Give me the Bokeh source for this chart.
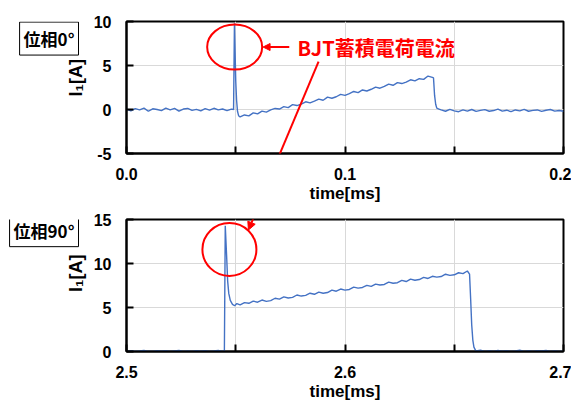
import math
from bokeh.plotting import figure
from bokeh.models import FixedTicker, PrintfTickFormatter, Label, Arrow, NormalHead
from bokeh.layouts import column, row
from bokeh.embed import file_html
from bokeh.resources import INLINE

# ---------------- data: time [ms], current I1 [A] ----------------
# phase 0 deg
top_base_t = [0.000, 0.002, 0.004, 0.006, 0.008, 0.010, 0.012, 0.014, 0.016, 0.018,
              0.020, 0.022, 0.024, 0.026, 0.028, 0.030, 0.032, 0.034, 0.036, 0.038,
              0.040, 0.042, 0.044, 0.046, 0.048]
top_base_i = [0.05, -0.15, 0.10, -0.05, 0.15, -0.20, 0.08, 0.00, -0.12, 0.15,
              -0.05, 0.12, -0.18, 0.05, 0.12, -0.10, 0.02, -0.15, 0.10, -0.08,
              0.14, -0.05, 0.06, -0.12, 0.04]
top_spike_t = [0.0490, 0.0494, 0.0497, 0.0500, 0.0504, 0.0508, 0.0513, 0.0520]
top_spike_i = [0.00, 9.80, 6.50, 3.20, 1.00, -0.20, -0.70, -0.85]
top_ramp_t = [0.054, 0.056, 0.058, 0.060, 0.062, 0.064, 0.066, 0.068, 0.070, 0.072,
              0.074, 0.076, 0.078, 0.080, 0.082, 0.084, 0.086, 0.088, 0.090, 0.092,
              0.094, 0.096, 0.098, 0.100, 0.102, 0.104, 0.106, 0.108, 0.110, 0.112,
              0.114, 0.116, 0.118, 0.120, 0.122, 0.124, 0.126, 0.128, 0.130, 0.132,
              0.134, 0.136, 0.138, 0.140]
top_ramp_i = [-0.62, -0.72, -0.38, -0.50, -0.18, -0.30, -0.05, 0.12, 0.05, 0.32,
              0.22, 0.55, 0.45, 0.62, 0.88, 0.75, 0.95, 1.18, 1.05, 1.40,
              1.28, 1.45, 1.72, 1.60, 1.80, 2.05, 1.92, 2.22, 2.10, 2.30,
              2.55, 2.42, 2.62, 2.88, 2.75, 3.05, 2.95, 3.12, 3.38, 3.25,
              3.50, 3.42, 3.80, 3.65]
top_drop_t = [0.1405, 0.1410, 0.1415, 0.1420, 0.1430]
top_drop_i = [3.60, 1.60, 0.60, 0.15, 0.05]
top_tail_t = [0.144, 0.146, 0.148, 0.150, 0.152, 0.154, 0.156, 0.158, 0.160, 0.162,
              0.164, 0.166, 0.168, 0.170, 0.172, 0.174, 0.176, 0.178, 0.180, 0.182,
              0.184, 0.186, 0.188, 0.190, 0.192, 0.194, 0.196, 0.198, 0.200]
top_tail_i = [-0.05, -0.20, 0.02, -0.15, -0.25, -0.05, -0.18, 0.00, -0.22, -0.10,
              -0.02, -0.20, -0.12, 0.05, -0.18, -0.08, -0.25, -0.05, -0.15, 0.02,
              -0.20, -0.10, -0.05, -0.22, -0.08, 0.00, -0.18, -0.12, -0.20]

# phase 90 deg
bot_base_t = [2.500, 2.502, 2.504, 2.506, 2.508, 2.510, 2.512, 2.514, 2.516, 2.518,
              2.520, 2.522, 2.524, 2.526, 2.528, 2.530, 2.532, 2.534, 2.536, 2.538,
              2.540, 2.542, 2.544]
bot_base_i = [0.02, 0.10, 0.00, 0.05, 0.12, 0.02, 0.00, 0.08, 0.03, 0.10,
              0.00, 0.06, 0.12, 0.02, 0.05, 0.00, 0.10, 0.03, 0.08, 0.00,
              0.05, 0.12, 0.02]
bot_spike_t = [2.5448, 2.5452, 2.5458, 2.5463, 2.5468, 2.5475, 2.5485, 2.5495, 2.5505]
bot_spike_i = [0.05, 14.30, 11.00, 8.00, 6.60, 5.80, 5.35, 5.20, 5.45]
bot_ramp_t = [2.552, 2.554, 2.556, 2.558, 2.560, 2.562, 2.564, 2.566, 2.568, 2.570,
              2.572, 2.574, 2.576, 2.578, 2.580, 2.582, 2.584, 2.586, 2.588, 2.590,
              2.592, 2.594, 2.596, 2.598, 2.600, 2.602, 2.604, 2.606, 2.608, 2.610,
              2.612, 2.614, 2.616, 2.618, 2.620, 2.622, 2.624, 2.626, 2.628, 2.630,
              2.632, 2.634, 2.636, 2.638, 2.640, 2.642, 2.644, 2.646, 2.648, 2.650,
              2.652, 2.654, 2.656]
bot_ramp_i = [5.30, 5.55, 5.48, 5.72, 5.60, 5.85, 5.70, 5.78, 6.05, 5.95,
              6.20, 6.08, 6.15, 6.42, 6.30, 6.38, 6.62, 6.50, 6.75, 6.62,
              6.70, 6.98, 6.85, 7.10, 6.98, 7.05, 7.32, 7.20, 7.28, 7.52,
              7.40, 7.65, 7.55, 7.62, 7.88, 7.75, 7.82, 8.08, 7.95, 8.22,
              8.10, 8.18, 8.42, 8.30, 8.55, 8.45, 8.52, 8.78, 8.65, 8.72,
              8.95, 8.85, 9.15]
bot_drop_t = [2.6570, 2.6575, 2.6580, 2.6585, 2.6590, 2.6598]
bot_drop_i = [8.80, 6.00, 3.00, 1.30, 0.50, 0.10]
bot_tail_t = [2.660, 2.662, 2.664, 2.666, 2.668, 2.670, 2.672, 2.674, 2.676, 2.678,
              2.680, 2.682, 2.684, 2.686, 2.688, 2.690, 2.692, 2.694, 2.696, 2.698,
              2.700]
bot_tail_i = [0.05, 0.15, 0.02, 0.08, 0.00, 0.12, 0.03, 0.10, 0.00, 0.06,
              0.14, 0.02, 0.08, 0.00, 0.10, 0.05, 0.12, 0.02, 0.06, 0.00, 0.04]

top_t = top_base_t + top_spike_t + top_ramp_t + top_drop_t + top_tail_t
top_i = top_base_i + top_spike_i + top_ramp_i + top_drop_i + top_tail_i
bot_t = bot_base_t + bot_spike_t + bot_ramp_t + bot_drop_t + bot_tail_t
bot_i = bot_base_i + bot_spike_i + bot_ramp_i + bot_drop_i + bot_tail_i

top_xticks = [0.0, 0.1, 0.2]
top_xminor = [0.05, 0.15]
top_yticks = [-5, 0, 5, 10]
bot_xticks = [2.5, 2.6, 2.7]
bot_xminor = [2.55, 2.65]
bot_yticks = [0, 5, 10, 15]

top_tag = "位相0°"
bot_tag = "位相90°"
note_text = "BJT蓄積電荷電流"
x_title = "time[ms]"
y_title = "I₁[A]"

# ---------------- layout (page pixels) ----------------
W = 571
SIDE_W = 90                 # left strip holding the phase tags and the y title
FL, FR = 126, 8             # frame left / right margin in page pixels
FW = W - FL - FR
TOP_H, TOP_BT, TOP_FH = 205, 21, 133
BOT_H, BOT_BT, BOT_FH = 198, 14, 133
TOP = dict(x=(0.0, 0.2), y=(-5, 10), ctop=0, bt=TOP_BT, fh=TOP_FH)
BOT = dict(x=(2.5, 2.7), y=(0, 15), ctop=TOP_H, bt=BOT_BT, fh=BOT_FH)

BLUE = "#4472C4"
RED = "#FF0000"
GRID = "#D9D9D9"
NUMFONT = "Liberation Sans"
JPFONT = "Noto Sans CJK JP"


def d2p(s, x, y):
    (x0, x1), (y0, y1) = s["x"], s["y"]
    px = FL + (x - x0) / (x1 - x0) * FW
    py = s["ctop"] + s["bt"] + (y1 - y) / (y1 - y0) * s["fh"]
    return px, py


def p2d(s, px, py):
    (x0, x1), (y0, y1) = s["x"], s["y"]
    x = x0 + (px - FL) / FW * (x1 - x0)
    y = y1 - (py - s["ctop"] - s["bt"]) / s["fh"] * (y1 - y0)
    return x, y


def make_fig(s, h, xt, xm, yt):
    p = figure(width=W - SIDE_W, height=h, x_range=s["x"], y_range=s["y"],
               output_backend="svg", toolbar_location=None,
               min_border_left=FL - SIDE_W, min_border_right=FR,
               min_border_top=s["bt"], min_border_bottom=40,
               background_fill_color="white", border_fill_color="white")
    p.outline_line_color = "black"
    p.outline_line_width = 2
    tk = FixedTicker(ticks=xt, minor_ticks=xm)
    p.xaxis.ticker = tk
    p.xgrid.ticker = tk
    p.yaxis.ticker = FixedTicker(ticks=yt, minor_ticks=[])
    p.ygrid.ticker = FixedTicker(ticks=yt, minor_ticks=[])
    p.xaxis.formatter = PrintfTickFormatter(format="%.1f")
    p.yaxis.formatter = PrintfTickFormatter(format="%d")
    for ax in (p.xaxis[0], p.yaxis[0]):
        ax.axis_line_color = "black"
        ax.axis_line_width = 2
        ax.major_tick_in = 7
        ax.major_tick_out = 0
        ax.major_tick_line_width = 2
        ax.major_tick_line_color = "black"
        ax.minor_tick_in = 7
        ax.minor_tick_out = 0
        ax.minor_tick_line_width = 2
        ax.minor_tick_line_color = "black"
        ax.major_label_text_font = NUMFONT
        ax.major_label_text_font_style = "bold"
        ax.major_label_text_font_size = "16px"
        ax.major_label_text_color = "black"
        ax.axis_label_text_font = NUMFONT
        ax.axis_label_text_font_style = "bold"
        ax.axis_label_text_color = "black"
    p.xaxis.major_label_standoff = 14
    p.xaxis.axis_label_standoff = 1
    p.xaxis.axis_label = x_title
    p.xaxis.axis_label_text_font_size = "17px"
    p.yaxis.major_label_standoff = 15
    p.xgrid.grid_line_color = GRID
    p.xgrid.minor_grid_line_color = GRID
    p.ygrid.grid_line_color = GRID
    return p


def side_fig(s, h, tag, tag_cy):
    # strip left of a chart: pixel ranges (y downwards) for the tag box and the y title
    f = figure(width=SIDE_W, height=h, x_range=(0, SIDE_W), y_range=(h, 0),
               output_backend="svg", toolbar_location=None,
               x_axis_location=None, y_axis_location=None, min_border=0,
               background_fill_color="white", border_fill_color="white")
    f.outline_line_color = None
    f.grid.visible = False
    f.add_layout(Label(x=78, y=tag_cy, text=tag, text_font=JPFONT, text_font_style="bold",
                       text_font_size="17px", text_color="black", text_align="right",
                       text_baseline="middle", border_line_color="black", border_line_width=1,
                       background_fill_color="white", padding=4))
    f.add_layout(Label(x=75, y=s["bt"] + s["fh"] / 2, text=y_title, angle=math.pi / 2,
                       text_font=NUMFONT, text_font_style="bold", text_font_size="18px",
                       text_color="black", text_align="center", text_baseline="middle"))
    return f


pt = make_fig(TOP, TOP_H, top_xticks, top_xminor, top_yticks)
pb = make_fig(BOT, BOT_H, bot_xticks, bot_xminor, bot_yticks)

pt.line(top_t, top_i, line_color=BLUE, line_width=1.4)
pb.line(bot_t, bot_i, line_color=BLUE, line_width=1.4)

# red circles around the spikes
pt.ellipse(x=[0.0495], y=[7.1], width=55, height=45, width_units="screen", height_units="screen",
           fill_color=None, line_color=RED, line_width=2)
pb.ellipse(x=[2.5471], y=[11.6], width=54, height=53, width_units="screen", height_units="screen",
           fill_color=None, line_color=RED, line_width=2)

# note text and short arrow
pt.add_layout(Label(x=0.0783, y=7.0, text=note_text, text_color=RED, text_font=JPFONT,
                    text_font_style="bold", text_font_size="20px", text_baseline="middle",
                    text_align="left"))
pt.add_layout(Arrow(x_start=0.0745, y_start=7.1, x_end=0.0625, y_end=7.1, line_color=RED,
                    line_width=2, end=NormalHead(size=7, fill_color=RED, line_color=RED)))

# long arrow from the note to the 90 deg spike (drawn in both charts)
start_top = (0.0879, 5.44)
end_bot = (2.5558, 13.8)
sp = d2p(TOP, *start_top)
ep = d2p(BOT, *end_bot)
ex_t, ey_t = p2d(TOP, *ep)
sx_b, sy_b = p2d(BOT, *sp)
pt.add_layout(Arrow(x_start=start_top[0], y_start=start_top[1], x_end=ex_t, y_end=ey_t,
                    line_color=RED, line_width=2, end=None))
pb.add_layout(Arrow(x_start=sx_b, y_start=sy_b, x_end=end_bot[0], y_end=end_bot[1],
                    line_color=RED, line_width=2,
                    end=NormalHead(size=8, fill_color=RED, line_color=RED)))

st = side_fig(TOP, TOP_H, top_tag, 26.5)
sb = side_fig(BOT, BOT_H, bot_tag, 16)

layout = column(row(st, pt, spacing=0), row(sb, pb, spacing=0), spacing=0)
open("out.html", "w").write(file_html(layout, INLINE))
